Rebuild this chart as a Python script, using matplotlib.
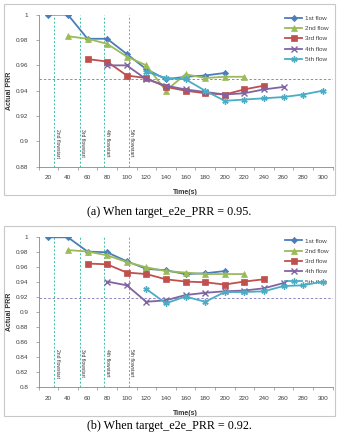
import matplotlib
matplotlib.use("Agg")
import matplotlib.pyplot as plt
from matplotlib.patches import Rectangle

# time axis (s)
times = [20, 40, 60, 80, 100, 120, 140, 160, 180, 200, 220, 240, 260, 280, 300]
t1 = [20, 40, 60, 80, 100, 120, 140, 160, 180, 200]
t2 = [40, 60, 80, 100, 120, 140, 160, 180, 200, 220]
t3 = [60, 80, 100, 120, 140, 160, 180, 200, 220, 240]
t4 = [80, 100, 120, 140, 160, 180, 200, 220, 240, 260]
t5 = [120, 140, 160, 180, 200, 220, 240, 260, 280, 300]

# (a) target 0.95
a1 = [1.0, 1.0, 0.981, 0.981, 0.969, 0.957, 0.949, 0.951, 0.952, 0.954]
a2 = [0.983, 0.981, 0.977, 0.967, 0.960, 0.940, 0.953, 0.950, 0.951, 0.951]
a3 = [0.965, 0.963, 0.952, 0.950, 0.943, 0.940, 0.938, 0.937, 0.941, 0.944]
a4 = [0.960, 0.960, 0.949, 0.944, 0.941, 0.939, 0.937, 0.938, 0.941, 0.943]
a5 = [0.955, 0.950, 0.949, 0.940, 0.932, 0.933, 0.934, 0.935, 0.937, 0.940]

# (b) target 0.92
b1 = [1.0, 1.0, 0.981, 0.980, 0.968, 0.958, 0.956, 0.951, 0.952, 0.955]
b2 = [0.983, 0.981, 0.976, 0.967, 0.960, 0.955, 0.953, 0.951, 0.951, 0.951]
b3 = [0.965, 0.964, 0.953, 0.951, 0.944, 0.941, 0.940, 0.937, 0.941, 0.944]
b4 = [0.941, 0.936, 0.914, 0.916, 0.923, 0.926, 0.928, 0.929, 0.932, 0.939]
b5 = [0.931, 0.912, 0.921, 0.914, 0.927, 0.927, 0.928, 0.935, 0.936, 0.941]

flow_names = ["1st flow", "2nd flow", "3rd flow", "4th flow", "5th flow"]
start_x = [26, 52, 77, 102]
start_names = ["2nd flowstart", "3rd flowstart", "4th flowstart", "5th flowstart"]

a_target = 0.949
b_target = 0.919
a_yticks = [0.88, 0.9, 0.92, 0.94, 0.96, 0.98, 1.0]
a_ylabels = ["0.88", "0.9", "0.92", "0.94", "0.96", "0.98", "1"]
b_yticks = [0.8, 0.82, 0.84, 0.86, 0.88, 0.9, 0.92, 0.94, 0.96, 0.98, 1.0]
b_ylabels = ["0.8", "0.82", "0.84", "0.86", "0.88", "0.9", "0.92", "0.94",
             "0.96", "0.98", "1"]

colors = ["#4a7ebb", "#9bbb59", "#c0504d", "#8064a2", "#4bacc6"]
markers = ["D", "^", "s", "x", (6, 2, 0)]
msizes = [3.2, 4.2, 4.5, 4.0, 4.5]

W, H = 338, 433
fig = plt.figure(figsize=(W / 100, H / 100), dpi=100)
plt.rcParams['font.family'] = ['Liberation Sans', 'DejaVu Sans']


def draw_panel(ax, series, target, yticks, ylabels, ylo, text_top, h_px):
    ts = [t1, t2, t3, t4, t5]
    for i in range(5):
        ax.plot(ts[i], series[i], color=colors[i], marker=markers[i],
                markersize=msizes[i], lw=1.3, mew=1.0 if i >= 3 else 0.5,
                label=flow_names[i], zorder=3 + i)
    ax.axhline(target, color="#8f86c6", lw=0.7, ls=(0, (2.5, 2)), zorder=2)
    for x, name in zip(start_x, start_names):
        ax.axvline(x, color="#3cbf9f", lw=0.7, ls=(0, (2, 2)), zorder=2)
        ax.text(x + 3.3, text_top, name, rotation=270, fontsize=3.6,
                ha="center", va="top", color="#333333")
    ax.set_xlim(10, 310)
    ax.set_ylim(ylo, 1.0)
    ax.set_xticks(times)
    ax.set_xticklabels([str(t) for t in times])
    ax.set_xticks([10 + 20 * k for k in range(16)], minor=True)
    ax.tick_params(axis="x", which="major", length=0, labelsize=4.6,
                   pad=6, colors="#404040")
    ax.tick_params(axis="x", which="minor", length=2.2, width=0.5,
                   color="#888888")
    ax.set_yticks(yticks)
    ax.set_yticklabels(ylabels)
    ax.tick_params(axis="y", length=2.2, width=0.5, labelsize=4.6, pad=5,
                   color="#888888", labelcolor="#404040")
    for s in ["top", "right"]:
        ax.spines[s].set_visible(False)
    for s in ["left", "bottom"]:
        ax.spines[s].set_color("#888888")
        ax.spines[s].set_linewidth(0.6)
    ax.set_xlabel("Time(s)", fontsize=5, fontweight="bold", color="#333333")
    ax.set_ylabel("Actual PRR", fontsize=5, fontweight="bold", color="#333333")
    ax.xaxis.set_label_coords(0.5, -22.5 / h_px)
    ax.yaxis.set_label_coords(-25.5 / 294, 0.5)
    leg = ax.legend(loc="upper right", bbox_to_anchor=(1.0, 1.02), frameon=False,
                    fontsize=4.6, handlelength=2.6, handletextpad=0.5,
                    labelspacing=0.75, borderaxespad=0.2)
    for txt in leg.get_texts():
        txt.set_color("#404040")


ax_a = fig.add_axes([38.5 / W, 1 - 166.7 / H, 294 / W, 152 / H])
draw_panel(ax_a, [a1, a2, a3, a4, a5], a_target, a_yticks, a_ylabels,
           0.88, 0.9095, 152)
ax_b = fig.add_axes([38.5 / W, 1 - 387.3 / H, 294 / W, 150 / H])
draw_panel(ax_b, [b1, b2, b3, b4, b5], b_target, b_yticks, b_ylabels,
           0.8, 0.851, 150)

# panel frames
for top, bot in [(4, 195), (226, 416)]:
    fig.add_artist(Rectangle((3.5 / W, 1 - bot / H), 331.5 / W, (bot - top) / H,
                             transform=fig.transFigure, fill=False,
                             edgecolor="#c8c8c8", lw=0.8))

fig.text(169 / W, 1 - 212 / H, "(a) When target_e2e_PRR = 0.95.",
         family="Liberation Serif", fontsize=8.7, ha="center", va="center")
fig.text(169 / W, 1 - 426 / H, "(b) When target_e2e_PRR = 0.92.",
         family="Liberation Serif", fontsize=8.7, ha="center", va="center")

fig.savefig("out.png", dpi=100)
